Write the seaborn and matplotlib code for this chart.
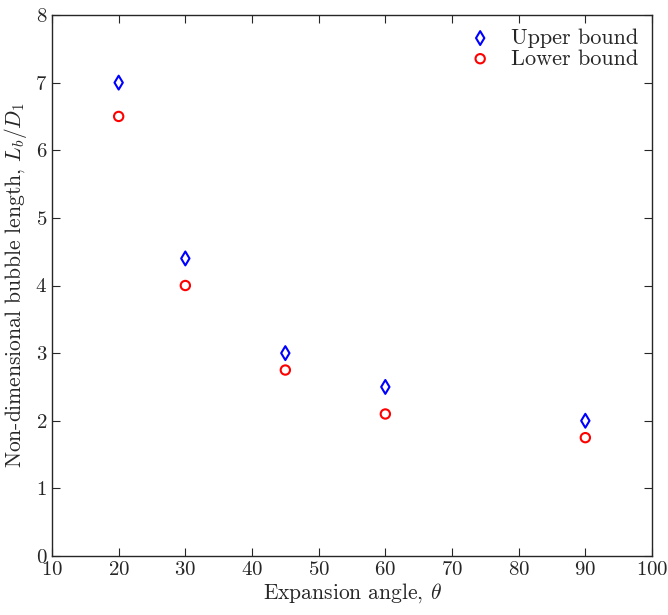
import matplotlib.pyplot as plt
import seaborn as sns

angles = [20, 30, 45, 60, 90]
upper_bound = [7.0, 4.4, 3.0, 2.5, 2.0]
lower_bound = [6.5, 4.0, 2.75, 2.1, 1.75]

sns.set_style("ticks")
plt.rcParams["font.family"] = ["cmr10", "DejaVu Serif"]
plt.rcParams["mathtext.fontset"] = "cm"
plt.rcParams["axes.formatter.use_mathtext"] = True
plt.rcParams["xtick.direction"] = "in"
plt.rcParams["ytick.direction"] = "in"

fig = plt.figure(figsize=(6.68, 6.15), dpi=100)
ax = fig.add_axes([52 / 668, 1 - 556 / 615, 600 / 668, 541 / 615])

# open markers, MATLAB-like
sns.scatterplot(x=angles, y=upper_bound, marker="d", s=50, facecolors="none",
                edgecolor="blue", linewidth=1.5, label="Upper bound", ax=ax)
sns.scatterplot(x=angles, y=lower_bound, marker="o", s=45, facecolors="none",
                edgecolor="red", linewidth=1.5, label="Lower bound", ax=ax)

ax.set_xlim(10, 100)
ax.set_ylim(0, 8)
ax.set_xticks(range(10, 101, 10))
ax.set_yticks(range(0, 9))
ax.tick_params(top=True, right=True, labelsize=15, length=6, width=0.8)
for sp in ax.spines.values():
    sp.set_linewidth(1.0)

ax.set_xlabel(r"Expansion angle, $\theta$", fontsize=15.5, labelpad=2)
ax.set_ylabel(r"Non-dimensional bubble length, $L_b/D_1$", fontsize=15.5, labelpad=4)
ax.legend(loc="upper right", frameon=False, fontsize=16, handletextpad=0.4,
          borderaxespad=0.2, labelspacing=0.05)

plt.savefig("out.png", dpi=100)
